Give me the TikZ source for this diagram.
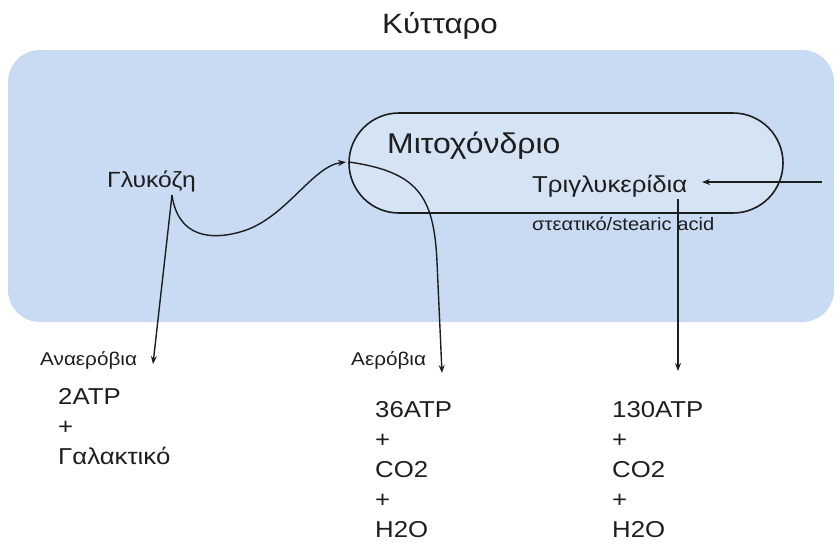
\documentclass[tikz,border=0pt]{standalone}
\usepackage{fontspec}
\setmainfont{Liberation Sans}[FakeStretch=1.12]
\usetikzlibrary{arrows.meta}
\definecolor{cellblue}{HTML}{C9DAF3}
\definecolor{mitoblue}{HTML}{D5E4F5}
\definecolor{ink}{HTML}{1E1E1E}
\begin{document}
\begin{tikzpicture}[x=1pt,y=-1pt,
  cellbox/.style={fill=cellblue,draw=none,rounded corners=32pt,minimum width=826pt,minimum height=272pt,inner sep=0pt},
  mitobox/.style={fill=mitoblue,draw=ink,line width=1.6pt,rounded corners=50pt,minimum width=434pt,minimum height=100pt,inner sep=0pt},
  lbl/.style={text=ink,inner sep=0pt,anchor=base west},
  arr/.style={draw=ink,line width=1.4pt,-{Stealth[length=8pt,width=6pt]}},
  res/.style={text=ink,inner sep=0pt,anchor=base west,align=left,font=\fontsize{23}{30}\selectfont}
]
\useasboundingbox (0,0) rectangle (840,542);

% cell and mitochondrion
\node[cellbox] (cell) at (421,186) {};
\node[lbl,anchor=base,font=\fontsize{28}{32}\selectfont] (title) at (440,33) {Κύτταρο};
\node[mitobox] (mito) at (566,163) {};

% labels inside the cell
\node[lbl,font=\fontsize{28.5}{32}\selectfont] (mitolbl) at (387,153) {Μιτοχόνδριο};
\node[lbl,font=\fontsize{23}{26}\selectfont] (tri) at (532,192) {Τριγλυκερίδια};
\node[lbl,font=\fontsize{18}{21}\selectfont] (stear) at (532,230) {στεατικό/stearic acid};
\node[lbl,font=\fontsize{22}{26}\selectfont] (glu) at (107,187) {Γλυκόζη};

% pathway labels
\node[lbl,font=\fontsize{18.5}{21}\selectfont] (anaer) at (40,365) {Αναερόβια};
\node[lbl,font=\fontsize{18.5}{21}\selectfont] (aer) at (351,365) {Αερόβια};

% products (base anchor sits on the last line)
\node[res] (prodA) at (58,464) {2ATP\\+\\Γαλακτικό};
\node[res] (prodB) at (375,537) {36ATP\\+\\CO2\\+\\H2O};
\node[res] (prodC) at (612,537) {130ATP\\+\\CO2\\+\\H2O};

% connector end points
\coordinate (gsrc) at (172,195);
\coordinate (anaend) at (153,364);
\coordinate (mitoin) at (346,162);
\coordinate (mitoout) at (349,162);
\coordinate (aerend) at (442,373);
\coordinate (trisrc) at (822,182);
\coordinate (triin) at (702,182);
\coordinate (tridown) at (678,199);
\coordinate (fatend) at (678,371);

% connectors
\draw[arr] (gsrc) -- (anaend);
\draw[arr] (gsrc) .. controls (178,238) and (212,240) .. (240,232)
                  .. controls (285,220) and (312,166) .. (mitoin);
\draw[arr] (mitoout) .. controls (418,172) and (434,196) .. (437,262) -- (aerend);
\draw[arr] (trisrc) -- (triin);
\draw[arr,line width=1.2pt] (tridown) -- (fatend);
\end{tikzpicture}
\end{document}
